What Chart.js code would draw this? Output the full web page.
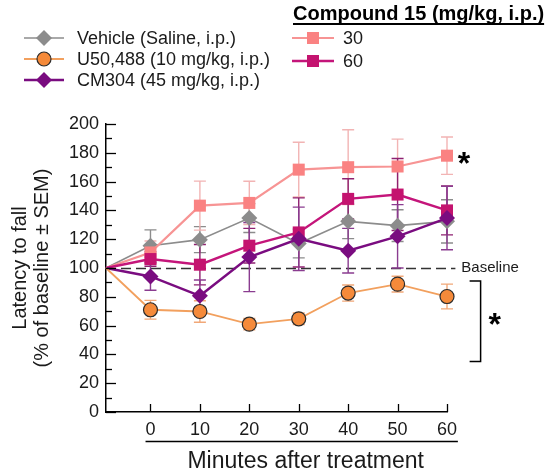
<!DOCTYPE html>
<html>
<head>
<meta charset="utf-8">
<style>
  html, body { margin: 0; padding: 0; background: #fff; }
  #wrap { width: 555px; height: 472px; }
</style>
<script src="https://cdn.jsdelivr.net/npm/chart.js@4.4.1/dist/chart.umd.min.js"></script>
</head>
<body>
<div id="wrap"><canvas id="chart" width="555" height="472"></canvas></div>
<script>
// time points (baseline sits on the y axis, before treatment)
const minutes = [-9, 0, 10, 20, 30, 40, 50, 60];
const xTickValues = [0, 10, 20, 30, 40, 50, 60];

// % of baseline
const vehicle = [100, 115.5, 119.7, 134.7, 117.0, 132.4, 129.4, 132.4];
const u50488 = [100, 71.0, 69.8, 61.0, 64.7, 82.6, 88.8, 80.2];
const cm304 = [100, 94.1, 80.7, 107.6, 120.3, 112.0, 122.0, 134.7];
const cmpd30 = [100, 110.8, 143.3, 145.2, 168.3, 170.0, 170.5, 178.0];
const cmpd60 = [100, 106.2, 102.3, 115.5, 124.7, 148.0, 151.0, 140.0];

// SEM
const vehicleSem = [0, 11, 9, 10, 10, 12, 11, 15];
const u50488Sem = [0, 6.5, 7.5, 4, 4, 5.6, 5.5, 8.6];
const cm304Sem = [0, 9.5, 11, 24, 22, 15.5, 22, 22];
const cmpd30Sem = [0, 8, 17, 15, 19, 26, 19, 13];
const cmpd60Sem = [0, 5, 14, 12, 24, 14, 25, 17];

const FONT = '"Liberation Sans", Arial, sans-serif';

function pts(values) {
  return values.map((v, i) => ({ x: minutes[i], y: v }));
}
function radii(r) {
  return minutes.map((m, i) => i === 0 ? 0 : r);
}

const datasets = [
  { label: 'U50,488 (10 mg/kg, i.p.)', data: pts(u50488), sem: u50488Sem, order: 0,
    borderColor: '#f2a05e', borderWidth: 1.8, pointStyle: 'circle', pointRadius: radii(7),
    pointBackgroundColor: '#f58a3a', pointBorderColor: '#2b2b2b', pointBorderWidth: 1.2, errColor: '#f1a878' },
  { label: 'CM304 (45 mg/kg, i.p.)', data: pts(cm304), sem: cm304Sem, order: 1,
    borderColor: '#7a0c80', borderWidth: 2.4, pointStyle: 'rectRot', pointRadius: radii(8),
    pointBackgroundColor: '#7a0c80', pointBorderColor: '#7a0c80', pointBorderWidth: 0, errColor: '#8a3c90' },
  { label: '60', data: pts(cmpd60), sem: cmpd60Sem, order: 2,
    borderColor: '#c4157a', borderWidth: 2.4, pointStyle: 'rect', pointRadius: radii(8.5),
    pointBackgroundColor: '#c4136f', pointBorderColor: '#c4136f', pointBorderWidth: 0, errColor: '#8e2070' },
  { label: '30', data: pts(cmpd30), sem: cmpd30Sem, order: 3,
    borderColor: '#f79494', borderWidth: 2.2, pointStyle: 'rect', pointRadius: radii(8.5),
    pointBackgroundColor: '#fa8282', pointBorderColor: '#fa8282', pointBorderWidth: 0, errColor: '#f2b4b4' },
  { label: 'Vehicle (Saline, i.p.)', data: pts(vehicle), sem: vehicleSem, order: 4,
    borderColor: '#8c8c8c', borderWidth: 1.6, pointStyle: 'rectRot', pointRadius: radii(8),
    pointBackgroundColor: '#8c8c8c', pointBorderColor: '#8c8c8c', pointBorderWidth: 0, errColor: '#8c8c8c' }
];
datasets.forEach(d => { d.clip = false; d.tension = 0; d.pointHoverRadius = d.pointRadius; });

const decorations = {
  id: 'decorations',
  beforeDatasetsDraw(chart) {
    const ctx = chart.ctx;
    const xs = chart.scales.x, ys = chart.scales.y;
    // baseline dashed line
    const yb = Math.round(ys.getPixelForValue(100)) + 0.5;
    ctx.save();
    ctx.strokeStyle = '#333';
    ctx.lineWidth = 1.3;
    ctx.setLineDash([10, 5]);
    ctx.beginPath();
    ctx.moveTo(chart.chartArea.left, yb);
    ctx.lineTo(xs.getPixelForValue(61.7), yb);
    ctx.stroke();
    ctx.restore();
    // error bars
    ctx.save();
    ctx.lineWidth = 1.4;
    chart.data.datasets.slice().reverse().forEach(ds => {
      ctx.strokeStyle = ds.errColor;
      ds.data.forEach((p, i) => {
        const e = ds.sem[i];
        if (!e) return;
        const x = xs.getPixelForValue(p.x);
        const y1 = ys.getPixelForValue(p.y + e);
        const y2 = ys.getPixelForValue(p.y - e);
        ctx.beginPath();
        ctx.moveTo(x, y1); ctx.lineTo(x, y2);
        ctx.moveTo(x - 6, y1); ctx.lineTo(x + 6, y1);
        ctx.moveTo(x - 6, y2); ctx.lineTo(x + 6, y2);
        ctx.stroke();
      });
    });
    ctx.restore();
  },
  afterDraw(chart) {
    const ctx = chart.ctx;
    const xs = chart.scales.x, ys = chart.scales.y;
    const area = chart.chartArea;
    ctx.save();
    ctx.strokeStyle = '#000';
    ctx.lineWidth = 1.3;
    // inward y ticks
    for (let v = 0; v <= 200; v += 10) {
      const y = Math.round(ys.getPixelForValue(v)) + 0.5;
      const len = v % 20 === 0 ? 10 : 6;
      ctx.beginPath();
      ctx.moveTo(area.left, y); ctx.lineTo(area.left + len, y);
      ctx.stroke();
    }
    // inward x ticks
    xTickValues.forEach(v => {
      const x = Math.round(xs.getPixelForValue(v)) + 0.5;
      ctx.beginPath();
      ctx.moveTo(x, area.bottom); ctx.lineTo(x, area.bottom - 8);
      ctx.stroke();
    });
    // line under the tick labels, with the axis title centred below it
    const ux1 = xs.getPixelForValue(-1), ux2 = xs.getPixelForValue(62.2);
    ctx.lineWidth = 1.5;
    ctx.beginPath();
    ctx.moveTo(ux1, 441.5);
    ctx.lineTo(ux2, 441.5);
    ctx.stroke();
    ctx.fillStyle = '#1a1a1a';
    ctx.font = '23px ' + FONT;
    ctx.textAlign = 'center';
    ctx.textBaseline = 'middle';
    ctx.fillText('Minutes after treatment', (ux1 + ux2) / 2 + 4, 462);

    // bracket for U50,488
    const bx = xs.getPixelForValue(66.8);
    const bt = ys.getPixelForValue(91), bb = ys.getPixelForValue(35);
    ctx.beginPath();
    ctx.moveTo(bx - 11, bt); ctx.lineTo(bx, bt); ctx.lineTo(bx, bb); ctx.lineTo(bx - 11, bb);
    ctx.stroke();

    // baseline label and stars
    ctx.fillStyle = '#1a1a1a';
    ctx.font = '15px ' + FONT;
    ctx.textBaseline = 'middle';
    ctx.textAlign = 'left';
    ctx.fillText('Baseline', xs.getPixelForValue(62.9), ys.getPixelForValue(100));
    ctx.fillStyle = '#000';
    ctx.font = 'bold 32px ' + FONT;
    ctx.textBaseline = 'alphabetic';
    ctx.fillText('*', xs.getPixelForValue(62.2), ys.getPixelForValue(178) + 18);
    ctx.fillText('*', bx + 8, ys.getPixelForValue(64) + 15);

    // legends
    const byLabel = {};
    chart.data.datasets.forEach(d => { byLabel[d.label] = d; });
    function legendRow(ds, x1, x2, y, textX) {
      ctx.strokeStyle = ds.borderColor;
      ctx.lineWidth = ds.borderWidth;
      ctx.beginPath();
      ctx.moveTo(x1, y); ctx.lineTo(x2, y);
      ctx.stroke();
      const cx = (x1 + x2) / 2;
      ctx.fillStyle = ds.pointBackgroundColor;
      ctx.beginPath();
      if (ds.pointStyle === 'circle') {
        ctx.arc(cx, y, 7, 0, Math.PI * 2);
      } else if (ds.pointStyle === 'rectRot') {
        ctx.moveTo(cx, y - 8); ctx.lineTo(cx + 8, y); ctx.lineTo(cx, y + 8); ctx.lineTo(cx - 8, y);
        ctx.closePath();
      } else {
        ctx.rect(cx - 6, y - 6, 12, 12);
      }
      ctx.fill();
      if (ds.pointBorderWidth) {
        ctx.strokeStyle = ds.pointBorderColor;
        ctx.lineWidth = ds.pointBorderWidth;
        ctx.stroke();
      }
      ctx.fillStyle = '#1a1a1a';
      ctx.font = '18px ' + FONT;
      ctx.textBaseline = 'middle';
      ctx.textAlign = 'left';
      ctx.fillText(ds.label, textX, y + 1);
    }
    legendRow(byLabel['Vehicle (Saline, i.p.)'], 24, 64, 38, 77);
    legendRow(byLabel['U50,488 (10 mg/kg, i.p.)'], 24, 64, 59, 77);
    legendRow(byLabel['CM304 (45 mg/kg, i.p.)'], 24, 64, 80, 77);
    legendRow(byLabel['30'], 292, 334, 38, 343);
    legendRow(byLabel['60'], 292, 334, 61, 343);

    ctx.fillStyle = '#000';
    ctx.font = 'bold 20px ' + FONT;
    ctx.textBaseline = 'alphabetic';
    const title = 'Compound 15 (mg/kg, i.p.)';
    ctx.fillText(title, 293, 20);
    const w = ctx.measureText(title).width;
    ctx.lineWidth = 1.8;
    ctx.strokeStyle = '#000';
    ctx.beginPath();
    ctx.moveTo(293, 24); ctx.lineTo(293 + w, 24);
    ctx.stroke();
    ctx.restore();
  }
};

new Chart(document.getElementById('chart'), {
  type: 'line',
  data: { datasets: datasets },
  options: {
    responsive: false,
    devicePixelRatio: 1,
    animation: false,
    layout: { padding: { top: 124, right: 108, left: 0, bottom: 0 } },
    plugins: { legend: { display: false }, tooltip: { enabled: false } },
    scales: {
      x: {
        type: 'linear', min: -9, max: 60,
        afterBuildTicks: s => { s.ticks = xTickValues.map(v => ({ value: v })); },
        afterFit: s => { s.height = 60; },
        grid: { drawOnChartArea: false, drawTicks: false },
        border: { display: true, color: '#000', width: 1.5 },
        ticks: { color: '#1a1a1a', font: { size: 18, family: FONT }, padding: 7, maxRotation: 0 }
      },
      y: {
        min: 0, max: 200,
        afterFit: s => { s.width = 106; },
        grid: { drawOnChartArea: false, drawTicks: false },
        border: { display: true, color: '#000', width: 1.5 },
        ticks: { stepSize: 20, color: '#1a1a1a', font: { size: 18, family: FONT }, padding: 7 },
        title: { display: true, text: ['Latency to fall', '(% of baseline \u00b1 SEM)'], color: '#1a1a1a',
                 font: { size: 20, family: FONT, lineHeight: 1.1 }, padding: { top: 9, bottom: 0 } }
      }
    }
  },
  plugins: [decorations]
});
</script>
</body>
</html>
